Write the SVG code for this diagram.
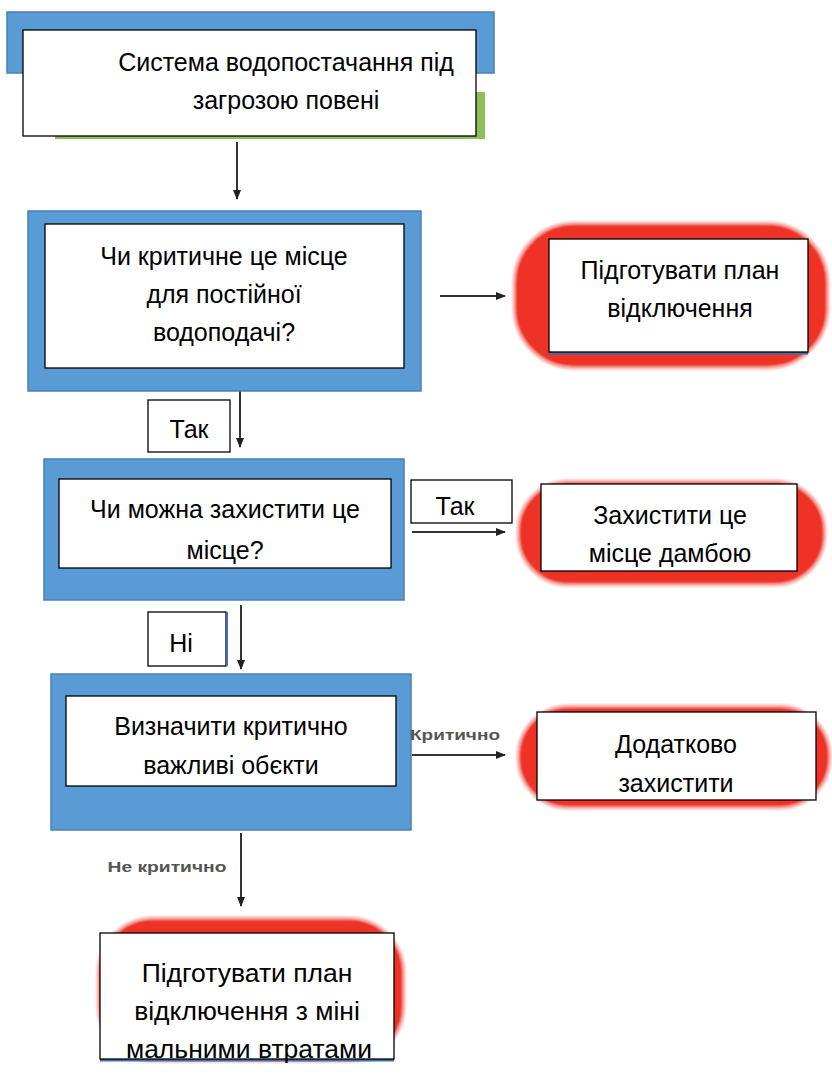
<svg xmlns="http://www.w3.org/2000/svg" width="832" height="1076" viewBox="0 0 832 1076">
<style>
.bg{fill:#ffffff}
.blue{fill:#5B9BD5;stroke:#4A80B8;stroke-width:1.5}
.red{fill:#EE3026;stroke:#F7B4AF;stroke-width:3;filter:url(#soft)}
.white{fill:#ffffff;stroke:#000000;stroke-width:1.3}
.t{font-family:"Liberation Sans",Arial,sans-serif;font-size:25px;fill:#000;text-anchor:middle}
.tb{font-size:26.5px}
.s{font-family:"Liberation Sans",Arial,sans-serif;font-size:14px;font-weight:bold;fill:#555;text-anchor:middle}
.line{stroke:#333;stroke-width:2;fill:none}
</style>
<defs>
<marker id="ah" markerWidth="10" markerHeight="8" refX="9" refY="4" orient="auto" markerUnits="userSpaceOnUse">
<path d="M0,0 L10,4 L0,8 Z" fill="#222"/>
</marker>
<filter id="soft" x="-20%" y="-20%" width="140%" height="140%">
<feGaussianBlur stdDeviation="1.2"/>
</filter>
</defs>
<rect class="bg" width="832" height="1076"/>

<g id="connectors">
<line class="line" x1="237" y1="142" x2="237" y2="199" marker-end="url(#ah)"/>
<line class="line" x1="440" y1="296" x2="505" y2="296" marker-end="url(#ah)"/>
<line class="line" x1="240" y1="391" x2="240" y2="447" marker-end="url(#ah)"/>
<line class="line" x1="412" y1="532" x2="505" y2="532" marker-end="url(#ah)"/>
<line class="line" x1="241" y1="605" x2="241" y2="669" marker-end="url(#ah)"/>
<line class="line" x1="412" y1="755" x2="505" y2="755" marker-end="url(#ah)"/>
<line class="line" x1="241" y1="833" x2="241" y2="906" marker-end="url(#ah)"/>
</g>

<g id="n1">
<rect x="7" y="12" width="487" height="61" class="blue"/>
<rect x="55" y="92" width="430" height="47" fill="#8DBF5A"/>
<rect x="23" y="30" width="453" height="106" class="white"/>
<text class="t" x="286" y="71">Система водопостачання під</text>
<text class="t" x="286" y="109">загрозою повені</text>
</g>

<g id="n2">
<rect x="28" y="211" width="393" height="180" class="blue"/>
<rect x="45" y="224" width="359" height="144" class="white"/>
<text class="t" x="224" y="265">Чи критичне це місце</text>
<text class="t" x="224" y="303">для постійної</text>
<text class="t" x="224" y="341">водоподачі?</text>
</g>

<g id="n3">
<rect x="514" y="223" width="314" height="145" rx="60" class="red"/>
<line x1="549" y1="353" x2="808" y2="353" stroke="#3F6FA8" stroke-width="3"/>
<rect x="549" y="239" width="259" height="113" class="white"/>
<text class="t" x="680" y="279">Підготувати план</text>
<text class="t" x="680" y="317">відключення</text>
</g>

<g id="l1">
<rect x="148" y="400" width="82" height="52" class="white"/>
<text class="t" x="189" y="438">Так</text>
</g>

<g id="n4">
<rect x="44" y="459" width="360" height="141" class="blue"/>
<rect x="59" y="479" width="332" height="89" class="white"/>
<text class="t" x="225" y="518">Чи можна захистити це</text>
<text class="t" x="225" y="559">місце?</text>
</g>

<g id="l2">
<rect x="411" y="480" width="101" height="43" class="white"/>
<text class="t" x="455" y="515">Так</text>
</g>

<g id="n5">
<rect x="518" y="481" width="307" height="104" rx="50" class="red"/>
<rect x="541" y="484" width="256" height="87" class="white"/>
<text class="t" x="670" y="524">Захистити це</text>
<text class="t" x="670" y="562">місце дамбою</text>
</g>

<g id="l3">
<rect x="148" y="612" width="78" height="54" class="white"/>
<line x1="227" y1="612" x2="227" y2="666" stroke="#3F6FA8" stroke-width="2"/>
<text class="t" x="181" y="652">Ні</text>
</g>

<g id="n6">
<rect x="51" y="674" width="360" height="156" class="blue"/>
<rect x="66" y="696" width="330" height="90" class="white"/>
<text class="t" x="231" y="735">Визначити критично</text>
<text class="t" x="231" y="774">важливі обєкти</text>
</g>

<g id="l4">
<text class="s" x="455" y="740" textLength="90" lengthAdjust="spacingAndGlyphs">Критично</text>
</g>

<g id="n7">
<rect x="518" y="706" width="312" height="102" rx="50" class="red"/>
<rect x="537" y="712" width="279" height="88" class="white"/>
<text class="t" x="676" y="753">Додатково</text>
<text class="t" x="676" y="792">захистити</text>
</g>

<g id="l5">
<text class="s" x="167" y="872" textLength="119" lengthAdjust="spacingAndGlyphs">Не критично</text>
</g>

<g id="n8">
<rect x="98" y="918" width="306" height="143" rx="55" class="red"/>
<line x1="100" y1="1060" x2="394" y2="1060" stroke="#3F6FA8" stroke-width="3"/>
<rect x="100" y="933" width="294" height="126" class="white"/>
<text class="t tb" x="247" y="982">Підготувати план</text>
<text class="t tb" x="247" y="1020">відключення з міні</text>
<text class="t tb" x="249" y="1058">мальними втратами</text>
</g>
</svg>
